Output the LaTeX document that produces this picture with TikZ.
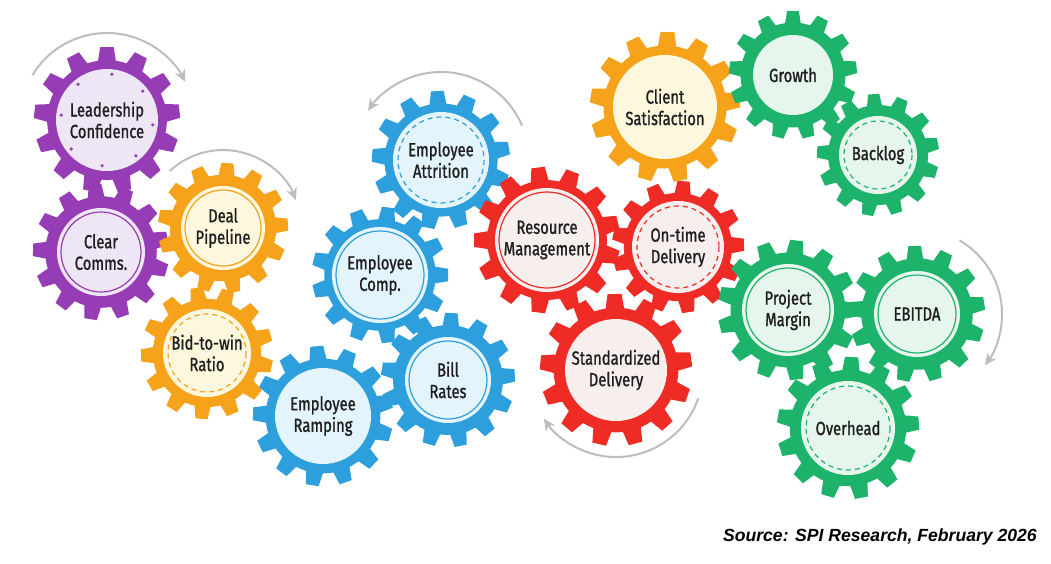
\documentclass[tikz,border=0pt]{standalone}
\usepackage{fontspec}
\setmainfont{Liberation Sans}
\newfontfamily\gearfont[FakeStretch=0.78,FakeBold=1.1]{Fira Sans}
\usetikzlibrary{arrows.meta}
\definecolor{purp}{HTML}{963CB4}
\definecolor{purpL}{HTML}{EFE6F5}
\definecolor{orng}{HTML}{F6A21A}
\definecolor{orngL}{HTML}{FDF7DE}
\definecolor{blu}{HTML}{2D9FDC}
\definecolor{bluL}{HTML}{E4F4FC}
\definecolor{rd}{HTML}{EE2B25}
\definecolor{rdL}{HTML}{F7EEEE}
\definecolor{grn}{HTML}{1DB36B}
\definecolor{grnL}{HTML}{E6F6EC}
\definecolor{arrowgrey}{HTML}{BDBDBD}
\definecolor{txt}{HTML}{1E1E1E}
% #1 name, #2 x,y, #3 tip radius, #4 light radius, #5 colour, #6 rotation
\newcommand{\gear}[6]{%
  \coordinate (#1) at (#2);
  \begin{scope}[shift={(#2)}, rotate=#6]
    \fill[#5] (0,0) circle ({0.82*#3});
    \foreach \k in {1,...,13}{
      \fill[#5, rotate={\k*360/13}] ({0.76*#3},{-0.13*#3}) -- ({#3},{-0.092*#3}) -- ({#3},{0.092*#3}) -- ({0.76*#3},{0.13*#3}) -- cycle;
    }
  \end{scope}
  \fill[#5L] (#1) circle (#4);
}
\tikzset{
  lbl/.style={font=\gearfont\fontsize{19}{21.5}\selectfont, align=center, text=txt, inner sep=0pt},
  ringline/.style={draw=#1, line width=1.2pt},
  dashline/.style={draw=#1, line width=1.2pt, dash pattern=on 5pt off 4pt},
  cyc/.style={draw=arrowgrey, line width=2pt, -{Stealth[length=12pt,width=11pt]}}
}
\begin{document}
\begin{tikzpicture}[x=1pt,y=-1pt]
\useasboundingbox (0,0) rectangle (1051,563);
\fill[white] (0,0) rectangle (1051,563);

% purple
\gear{lead}{107,120}{73}{51}{purp}{7}
\foreach \a in {0,45,...,315} \fill[purp] ([shift={(\a-84:46)}]lead) circle (1.8);
\gear{clear}{101,252}{68}{44}{purp}{12}
\draw[ringline=purp] (clear) circle (40);

% orange
\gear{deal}{223,228}{65}{42}{orng}{3}
\draw[ringline=orng] (deal) circle (38);
\gear{bid}{207,353}{66}{44}{orng}{16}
\draw[dashline=orng] (bid) circle (39);
\gear{client}{665,107}{75}{52}{orng}{5}

% blue
\gear{attr}{441,160}{69}{48}{blu}{10}
\draw[dashline=blu] (attr) circle (43);
\gear{comp}{380,275}{68}{48}{blu}{0}
\draw[ringline=blu] (comp) circle (44);
\gear{ramp}{323,416}{70}{48}{blu}{12}
\gear{bill}{448,380}{67}{43}{blu}{4}
\draw[ringline=blu] (bill) circle (39);

% red
\gear{res}{547,240}{73}{52}{rd}{14}
\draw[ringline=rd] (res) circle (48);
\gear{ontime}{678,247}{66}{46}{rd}{2}
\draw[dashline=rd] (ontime) circle (41);
\gear{std}{616,370}{76}{51}{rd}{8}

% green
\gear{growth}{793,75}{64}{40}{grn}{7}
\gear{backlog}{878,155}{61}{39}{grn}{11}
\draw[dashline=grn] (backlog) circle (34);
\gear{proj}{788,310}{70}{46}{grn}{0}
\draw[ringline=grn] (proj) circle (42);
\gear{ebitda}{917,314}{68}{43}{grn}{9}
\draw[ringline=grn] (ebitda) circle (39);
\gear{over}{848,428}{71}{47}{grn}{4}
\draw[dashline=grn] (over) circle (42);

% labels
\node[lbl] (leadL) at (lead) {Leadership\\Confidence};
\node[lbl] (clearL) at (clear) {Clear\\Comms.};
\node[lbl] (dealL) at (deal) {Deal\\Pipeline};
\node[lbl] (bidL) at (bid) {Bid-to-win\\Ratio};
\node[lbl] (clientL) at (client) {Client\\Satisfaction};
\node[lbl] (attrL) at (attr) {Employee\\Attrition};
\node[lbl] (compL) at (comp) {Employee\\Comp.};
\node[lbl] (rampL) at (ramp) {Employee\\Ramping};
\node[lbl] (billL) at (bill) {Bill\\Rates};
\node[lbl] (resL) at (res) {Resource\\Management};
\node[lbl] (ontimeL) at (ontime) {On-time\\Delivery};
\node[lbl] (stdL) at (std) {Standardized\\Delivery};
\node[lbl] (growthL) at (growth) {Growth};
\node[lbl] (backlogL) at (backlog) {Backlog};
\node[lbl] (projL) at (proj) {Project\\Margin};
\node[lbl] (ebitdaL) at (ebitda) {EBITDA};
\node[lbl] (overL) at (over) {Overhead};

% rotation arrows
\draw[cyc] ([shift={(211:87)}]lead) arc[start angle=211, end angle=334, radius=87];
\draw[cyc] ([shift={(227:78)}]deal) arc[start angle=227, end angle=339, radius=78];
\draw[cyc] ([shift={(337:88)}]attr) arc[start angle=337, end angle=214, radius=88];
\draw[cyc] ([shift={(19:87)}]std) arc[start angle=19, end angle=146, radius=87];
\draw[cyc] ([shift={(-60:85)}]ebitda) arc[start angle=-60, end angle=37, radius=85];

% source
\node[anchor=east, inner sep=0pt, text=black, font=\bfseries\itshape\fontsize{17.6}{20}\selectfont] (src) at (1037,537) {Source: SPI Research, February 2026};
\end{tikzpicture}
\end{document}
